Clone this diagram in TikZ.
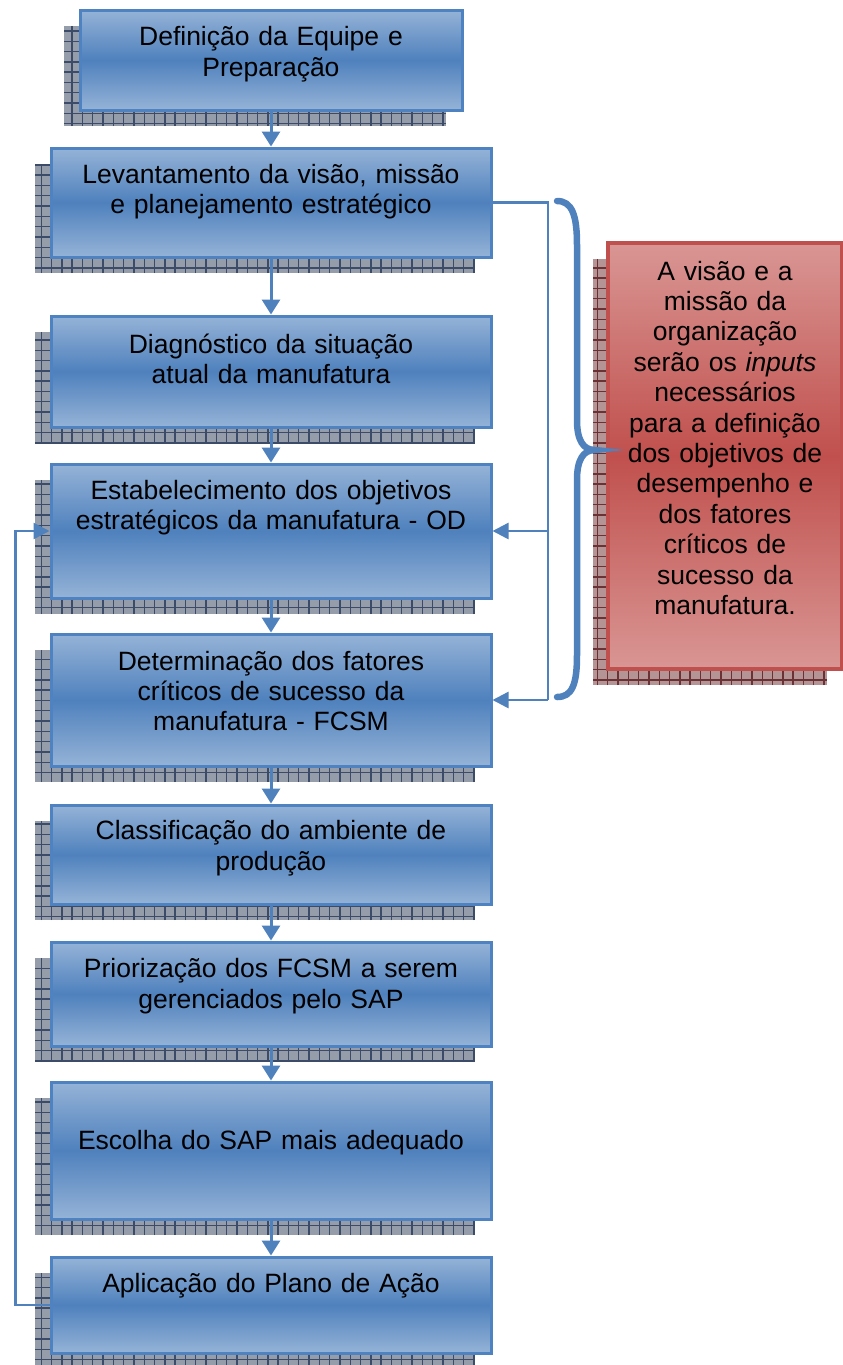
\documentclass[tikz,border=0pt]{standalone}
\usepackage{fontspec}
\setmainfont{Liberation Sans}
\usetikzlibrary{arrows.meta}
\definecolor{boxblue}{HTML}{4F81BD}
\definecolor{lightblue}{HTML}{95B3D7}
\definecolor{borderblue}{HTML}{4F82C0}
\definecolor{linkblue}{HTML}{4F81BD}
\definecolor{boxred}{HTML}{C0504D}
\definecolor{lightred}{HTML}{D99694}
\definecolor{shadowfill}{HTML}{969DAA}
\definecolor{shadowline}{HTML}{3C4C68}
\definecolor{rshadowfill}{HTML}{B49494}
\definecolor{rshadowline}{HTML}{6A3234}
\newcommand\mkshadow[6]{%
  \begin{scope}
    \clip (#1,#2) rectangle (#3,#4);
    \fill[#5] (#1,#2) rectangle (#3,#4);
    \draw[#6, line width=1.4pt, step=10.3pt] (#1,#2) grid (#3,#4);
  \end{scope}}
\tikzset{
  bluebox/.style={draw=borderblue, line width=3pt, top color=lightblue, bottom color=lightblue, middle color=boxblue, inner sep=0pt, minimum width=440pt},
  redbox/.style={draw=boxred, line width=3.5pt, top color=lightred, bottom color=lightred, middle color=boxred, inner sep=0pt},
  boxtext/.style={font=\fontsize{26.5}{30.4}\selectfont, align=center, text width=440pt, anchor=base, inner sep=0pt},
  redtext/.style={font=\fontsize{26.5}{30.4}\selectfont, align=center, text width=232pt, anchor=base, inner sep=0pt},
  flow/.style={draw=linkblue, line width=3pt, -{Triangle[width=18pt,length=15pt]}},
  link/.style={draw=linkblue, line width=2.5pt, -{Triangle[width=16pt,length=16pt]}},
  plainlink/.style={draw=linkblue, line width=2.5pt},
  bracestyle/.style={draw=linkblue, line width=6.5pt, line cap=round},
}
\begin{document}
\begin{tikzpicture}[x=1pt, y=-1pt]
\useasboundingbox (0,0) rectangle (843,1365);
\fill[white] (0,0) rectangle (843,1365);
% shadows
\mkshadow{64}{26}{446}{126}{shadowfill}{shadowline}
\mkshadow{35}{164}{475}{273}{shadowfill}{shadowline}
\mkshadow{35}{332}{475}{443}{shadowfill}{shadowline}
\mkshadow{35}{480}{475}{614}{shadowfill}{shadowline}
\mkshadow{35}{650}{475}{782}{shadowfill}{shadowline}
\mkshadow{35}{821}{475}{920}{shadowfill}{shadowline}
\mkshadow{35}{958}{475}{1062}{shadowfill}{shadowline}
\mkshadow{35}{1098}{475}{1235}{shadowfill}{shadowline}
\mkshadow{35}{1273}{475}{1369}{shadowfill}{shadowline}
\mkshadow{593}{259}{827}{685}{rshadowfill}{rshadowline}
% boxes
\node[bluebox, minimum width=382pt, minimum height=100pt] (b1) at (271,60) {};
\node[bluebox, minimum height=109pt] (b2) at (271,202.5) {};
\node[bluebox, minimum height=111pt] (b3) at (271,371.5) {};
\node[bluebox, minimum height=134pt] (b4) at (271,531) {};
\node[bluebox, minimum height=132pt] (b5) at (271,700) {};
\node[bluebox, minimum height=99pt] (b6) at (271,854.5) {};
\node[bluebox, minimum height=104pt] (b7) at (271,994) {};
\node[bluebox, minimum height=137pt] (b8) at (271,1150.5) {};
\node[bluebox, minimum height=96pt] (b9) at (271,1305) {};
\node[redbox, minimum width=234pt, minimum height=426pt] (r) at (725,456) {};
% texts
\node[boxtext] (t1) at (271,45.7) {Definição da Equipe e\\Preparação};
\node[boxtext] (t2) at (271,183.5) {Levantamento da visão, missão\\e planejamento estratégico};
\node[boxtext] (t3) at (271,353.3) {Diagnóstico da situação\\atual da manufatura};
\node[boxtext] (t4) at (271,499.5) {Estabelecimento dos objetivos\\estratégicos da manufatura - OD};
\node[boxtext] (t5) at (271,670) {Determinação dos fatores\\críticos de sucesso da\\manufatura - FCSM};
\node[boxtext] (t6) at (271,839.7) {Classificação do ambiente de\\produção};
\node[boxtext] (t7) at (271,977.8) {Priorização dos FCSM a serem\\gerenciados pelo SAP};
\node[boxtext] (t8) at (271,1149.4) {Escolha do SAP mais adequado};
\node[boxtext] (t9) at (271,1292) {Aplicação do Plano de Ação};
\node[redtext] (rt) at (725,280) {A visão e a\\missão da\\organização\\serão os \textit{inputs}\\necessários\\para a definição\\dos objetivos de\\desempenho e\\dos fatores\\críticos de\\sucesso da\\manufatura.};
% flow arrows
\draw[flow] (b1.south) -- (b2.north);
\draw[flow] (b2.south) -- (b3.north);
\draw[flow] (b3.south) -- (b4.north);
\draw[flow] (b4.south) -- (b5.north);
\draw[flow] (b5.south) -- (b6.north);
\draw[flow] (b6.south) -- (b7.north);
\draw[flow] (b7.south) -- (b8.north);
\draw[flow] (b8.south) -- (b9.north);
% loop back
\draw[link] (b9.west) -- ++(-34,0) coordinate (lp) |- (b4.west);
% right connector
\coordinate (rc) at (548,202.5);
\draw[plainlink] (b2.east) -- (rc) -- (rc |- b5.east);
\draw[link] (rc |- b4.east) -- (b4.east);
\draw[link] (rc |- b5.east) -- (b5.east);
% brace
\draw[bracestyle] (557,201) .. controls (572,201) and (577,215) .. (577,245) -- (577,420) .. controls (577,440) and (583,450) .. (595,450) .. controls (583,450) and (577,460) .. (577,480) -- (577,655) .. controls (577,685) and (572,697) .. (557,697);
\end{tikzpicture}
\end{document}
